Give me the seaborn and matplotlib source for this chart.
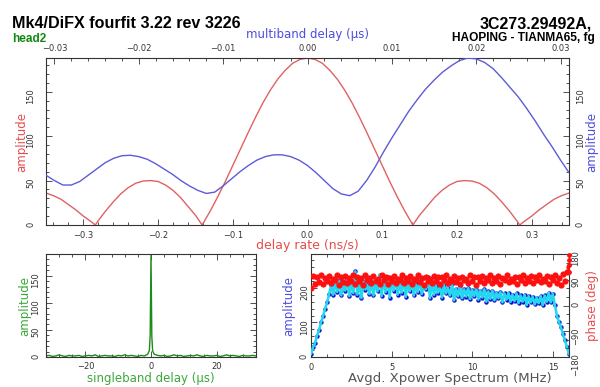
import numpy as np
import pandas as pd
import matplotlib
matplotlib.use("Agg")
import matplotlib.pyplot as plt
import seaborn as sns
from matplotlib.ticker import MultipleLocator

# ---------------- data ----------------
rate_ns_s = [-0.35, -0.34, -0.33, -0.32, -0.31, -0.30, -0.29, -0.284, -0.28, -0.27,
             -0.26, -0.25, -0.24, -0.23, -0.22, -0.21, -0.20, -0.19, -0.18, -0.17,
             -0.16, -0.15, -0.141, -0.13, -0.12, -0.11, -0.10, -0.09, -0.08, -0.07,
             -0.06, -0.05, -0.04, -0.03, -0.02, -0.01,
             0.00, 0.01, 0.02, 0.03, 0.04, 0.05, 0.06, 0.07, 0.08, 0.09, 0.10, 0.11,
             0.12, 0.13, 0.141, 0.15, 0.16, 0.17, 0.18, 0.19, 0.20, 0.21, 0.22, 0.23,
             0.24, 0.25, 0.26, 0.27, 0.28, 0.284, 0.29, 0.30, 0.31, 0.32, 0.33, 0.34, 0.35]
rate_amp = [36, 33, 29, 23, 17, 10, 4, 0, 5, 16,
            26, 35, 42, 47, 49.5, 50, 49, 45, 39, 31,
            21, 11, 0, 16, 32, 49, 67, 85, 103, 120.5,
            137, 151.5, 164, 174, 182, 186.4,
            188, 186.4, 182, 174, 164, 151.5, 137, 120.5, 103, 85, 67, 49,
            32, 16, 0, 11, 21, 31, 39, 45, 49, 50, 49.5, 47,
            42, 35, 26, 16, 5, 0, 4, 10, 17, 23, 29, 33, 36]

mbd_us = [-0.031, -0.030, -0.029, -0.028, -0.027, -0.026, -0.025, -0.024, -0.023, -0.022,
          -0.021, -0.020, -0.019, -0.018, -0.017, -0.016, -0.015, -0.014, -0.013, -0.012,
          -0.011, -0.010, -0.009, -0.008, -0.007, -0.006, -0.005, -0.004, -0.003, -0.002,
          -0.001, 0.000, 0.001, 0.002, 0.003, 0.004, 0.005, 0.006, 0.007, 0.008,
          0.009, 0.010, 0.011, 0.012, 0.013, 0.014, 0.015, 0.016, 0.017, 0.018,
          0.019, 0.020, 0.021, 0.022, 0.023, 0.024, 0.025, 0.026, 0.027, 0.028,
          0.029, 0.030, 0.031]
mbd_amp = [56, 50, 45, 45, 49, 56, 63, 70, 75, 78,
           78.5, 77, 74, 69, 63, 57, 50, 44, 39, 35.5,
           37, 44, 52, 60, 67, 73, 77, 79, 79, 77,
           73, 67, 59, 50, 41, 35, 33, 38, 50, 65,
           82, 98, 113, 128, 141, 153, 163, 172, 179, 185,
           188, 187, 183, 176, 166, 155, 144, 131, 117, 102,
           88, 73, 59]

sbd_us = [-32, -31, -30, -29, -28, -27, -26, -25, -24, -23, -22, -21, -20, -19, -18, -17,
          -16, -15, -14, -13, -12, -11, -10, -9, -8, -7, -6, -5, -4, -3, -2, -1,
          -0.5, -0.25, 0, 0.25, 0.5,
          1, 2, 3, 4, 5, 6, 7, 8, 9, 10, 11, 12, 13, 14, 15, 16,
          17, 18, 19, 20, 21, 22, 23, 24, 25, 26, 27, 28, 29, 30, 31, 32]
sbd_amp = [2, 3, 1, 2, 4, 2, 1, 3, 2, 2, 3, 1, 2, 3, 2, 4,
           1, 2, 3, 2, 2, 1, 3, 2, 4, 2, 3, 2, 1, 3, 2, 5,
           12, 40, 188, 38, 11,
           5, 3, 2, 3, 1, 2, 4, 2, 3, 1, 2, 3, 2, 4, 2, 1,
           3, 2, 2, 3, 1, 2, 4, 2, 3, 2, 1, 3, 2, 2, 3, 2]

freq_mhz = np.linspace(0, 16, 129)   # channel grid, 0.125 MHz
xp_amp = [8, 28, 40, 62, 78, 100, 118, 140, 158, 182, 208, 180, 215, 188, 222, 178,
          210, 192, 225, 176, 215, 185, 248, 180, 212, 170, 218, 195, 208, 182, 220, 178,
          214, 190, 238, 176, 222, 188, 232, 172, 218, 192, 226, 180, 212, 186, 230, 174,
          216, 190, 222, 178, 210, 188, 226, 182, 208, 196, 232, 170, 215, 180, 206, 186,
          202, 172, 208, 184, 200, 178, 212, 164, 198, 176, 204, 170, 196, 175, 200, 168,
          194, 176, 198, 166, 192, 172, 196, 160, 190, 168, 192, 164, 186, 170, 188, 158,
          184, 166, 186, 160, 180, 162, 184, 156, 178, 160, 180, 150, 176, 158, 174, 152,
          172, 156, 176, 150, 178, 160, 186, 158, 182, 150, 120, 102, 86, 66, 48, 28, 8]
xp_phase = [62, 104, 76, 98, 82, 106, 74, 96, 85, 103, 78, 94, 88, 107, 73, 99,
            83, 104, 77, 95, 87, 106, 75, 100, 84, 96, 72, 105, 89, 97, 79, 103,
            85, 93, 76, 106, 88, 99, 74, 95, 86, 104, 78, 94, 90, 107, 80, 97,
            84, 103, 75, 93, 88, 105, 81, 96, 73, 101, 87, 94, 79, 104, 85, 98,
            74, 100, 88, 106, 78, 94, 86, 103, 82, 96, 75, 101, 89, 93, 80, 105,
            84, 98, 72, 100, 87, 104, 79, 95, 90, 107, 77, 97, 85, 103, 74, 96,
            88, 105, 81, 94, 86, 101, 76, 98, 90, 107, 80, 95, 84, 104, 78, 99,
            88, 106, 82, 94, 86, 103, 75, 101, 90, 108, 80, 97, 72, 110, 84, 118, 135]
edge_freq = [16.0, 16.0, 16.0, 15.97]
edge_phase = [178, 160, 140, 118]

# ---------------- style ----------------
sns.set_theme(style="ticks")
plt.rcParams['font.family'] = ['DejaVu Sans']

RED_L = '#e06262'
BLUE_L = '#5c5cd6'
RED_T = '#e84c4c'
BLUE_T = '#4d4de0'
GREEN_T = '#3aa83a'
TICKC = '#333333'
TICKFS = 6

W, H = 600, 387
fig = plt.figure(figsize=(W / 100, H / 100), dpi=100)

def rect(x0, y0, x1, y1):
    return [x0 / W, 1 - y1 / H, (x1 - x0) / W, (y1 - y0) / H]

ax_top = fig.add_axes(rect(46, 58, 569, 225))
ax_mb = fig.add_axes(rect(46, 58, 569, 225), frameon=False)
ax_sb = fig.add_axes(rect(46, 254, 256, 357))
ax_sp = fig.add_axes(rect(311, 254, 569, 357))
ax_ph = ax_sp.twinx()

def style_ticks(ax, **kw):
    ax.tick_params(which='both', direction='in', color=TICKC, width=0.6,
                   labelsize=TICKFS, labelcolor=TICKC, **kw)
    ax.tick_params(which='major', length=4)
    ax.tick_params(which='minor', length=2)

for a in (ax_top, ax_sb, ax_sp):
    for s in a.spines.values():
        s.set_color(TICKC)
        s.set_linewidth(0.8)
for s in ax_ph.spines.values():
    s.set_visible(False)

# ---------------- top panel: delay rate (red) ----------------
sns.lineplot(x=rate_ns_s, y=rate_amp, ax=ax_top, color=RED_L, lw=1.0,
             estimator=None, sort=False)
ax_top.set_xlim(-0.35, 0.35)
ax_top.set_ylim(0, 188)
ax_top.xaxis.set_major_locator(MultipleLocator(0.1))
ax_top.xaxis.set_minor_locator(MultipleLocator(0.02))
ax_top.yaxis.set_major_locator(MultipleLocator(50))
ax_top.yaxis.set_minor_locator(MultipleLocator(10))
style_ticks(ax_top, top=False, right=False)
ax_top.tick_params(axis='x', which='both', pad=4)
ax_top.tick_params(axis='y', which='both', pad=7.5, labelrotation=90)
ax_top.set_xlabel('delay rate (ns/s)', color=RED_T, fontsize=9)
ax_top.xaxis.set_label_coords(0.5, -0.122)
ax_top.xaxis.label.set_va('center')
ax_top.set_ylabel('amplitude', color=RED_T, fontsize=8.5, va='center')
ax_top.yaxis.set_label_coords(-0.047, 0.5)

# overlay: multiband delay (blue)
sns.lineplot(x=mbd_us, y=mbd_amp, ax=ax_mb, color=BLUE_L, lw=1.0,
             estimator=None, sort=False)
ax_mb.patch.set_visible(False)
ax_mb.set_xlim(-0.031, 0.031)
ax_mb.set_ylim(0, 188)
ax_mb.xaxis.set_ticks_position('top')
ax_mb.xaxis.set_label_position('top')
ax_mb.yaxis.set_ticks_position('right')
ax_mb.yaxis.set_label_position('right')
ax_mb.xaxis.set_major_locator(MultipleLocator(0.01))
ax_mb.xaxis.set_minor_locator(MultipleLocator(0.002))
ax_mb.yaxis.set_major_locator(MultipleLocator(50))
ax_mb.yaxis.set_minor_locator(MultipleLocator(10))
style_ticks(ax_mb, top=True, bottom=False, left=False, right=True,
            labeltop=True, labelbottom=False, labelleft=False, labelright=True)
ax_mb.tick_params(axis='x', which='both', pad=3.5)
ax_mb.tick_params(axis='y', which='both', pad=5, labelrotation=90)
ax_mb.set_xlabel('multiband delay (\u00b5s)', color=BLUE_T, fontsize=8.5)
ax_mb.xaxis.set_label_coords(0.5, 1.138)
ax_mb.xaxis.label.set_va('center')
ax_mb.set_ylabel('amplitude', color=BLUE_T, fontsize=8.5)
ax_mb.yaxis.label.set_va('center')
ax_mb.yaxis.label.set_rotation(90)
ax_mb.yaxis.set_label_coords(1.043, 0.5)

# ---------------- bottom-left: singleband delay ----------------
sns.lineplot(x=sbd_us, y=sbd_amp, ax=ax_sb, color='#1a8c1a', lw=1.0,
             estimator=None, sort=False)
ax_sb.set_xlim(-32, 32)
ax_sb.set_ylim(0, 190)
ax_sb.xaxis.set_major_locator(MultipleLocator(20))
ax_sb.xaxis.set_minor_locator(MultipleLocator(4))
ax_sb.yaxis.set_major_locator(MultipleLocator(50))
ax_sb.yaxis.set_minor_locator(MultipleLocator(10))
style_ticks(ax_sb, top=True, right=True)
ax_sb.tick_params(axis='x', which='both', pad=3.4)
ax_sb.tick_params(axis='y', which='both', pad=4.3, labelrotation=90)
ax_sb.set_xlabel('singleband delay (\u00b5s)', color=GREEN_T, fontsize=8.5)
ax_sb.xaxis.set_label_coords(0.4976, -0.204)
ax_sb.xaxis.label.set_va('center')
ax_sb.set_ylabel('amplitude', color=GREEN_T, fontsize=8.5, va='center')
ax_sb.yaxis.set_label_coords(-0.1, 0.5)

# ---------------- bottom-right: cross-power spectrum ----------------
sns.scatterplot(x=freq_mhz, y=xp_amp, ax=ax_sp, color='#1010d0', s=10,
                linewidth=0, zorder=2)
sns.lineplot(x=freq_mhz, y=xp_amp, ax=ax_sp, color='#22d8f0', lw=1.8,
             estimator=None, sort=False, zorder=3)
ax_sp.set_xlim(0, 16)
ax_sp.set_ylim(0, 298)
ax_sp.xaxis.set_major_locator(MultipleLocator(5))
ax_sp.xaxis.set_minor_locator(MultipleLocator(1))
ax_sp.yaxis.set_major_locator(MultipleLocator(100))
ax_sp.yaxis.set_minor_locator(MultipleLocator(20))
style_ticks(ax_sp, top=True, right=False)
ax_sp.tick_params(axis='x', which='both', pad=4)
ax_sp.tick_params(axis='y', which='both', pad=1.5, labelrotation=90)
ax_sp.set_xlabel('Avgd. Xpower Spectrum (MHz)', color='#555555', fontsize=9.5)
ax_sp.xaxis.set_label_coords(0.539, -0.204)
ax_sp.xaxis.label.set_va('center')
ax_sp.set_ylabel('amplitude', color=BLUE_T, fontsize=8.5, va='center')
ax_sp.yaxis.set_label_coords(-0.085, 0.5)

sns.scatterplot(x=freq_mhz, y=xp_phase, ax=ax_ph, color='#ff1010', s=20,
                linewidth=0)
sns.scatterplot(x=edge_freq, y=edge_phase, ax=ax_ph, color='#ff1010', s=12,
                linewidth=0, clip_on=False)
ax_ph.set_xlim(0, 16)
ax_ph.set_ylim(-180, 180)
ax_ph.yaxis.set_major_locator(MultipleLocator(90))
ax_ph.yaxis.set_minor_locator(MultipleLocator(30))
style_ticks(ax_ph, left=False, right=True, labelleft=False, labelright=True)
ax_ph.tick_params(axis='y', which='both', pad=1.5, labelrotation=90)
ax_ph.set_ylabel('phase (deg)', color=RED_T, fontsize=8.5)
ax_ph.yaxis.label.set_va('center')
ax_ph.yaxis.label.set_rotation(90)
ax_ph.yaxis.set_label_coords(1.091, 0.5)

# ---------------- header texts ----------------
fig.text(12 / W, 1 - 27.5 / H, 'Mk4/DiFX fourfit 3.22 rev 3226', fontsize=11.6,
         fontweight='bold', family='Liberation Sans', ha='left', va='baseline',
         color='black')
fig.text(12 / W, 1 - 42.5 / H, 'head2', fontsize=8.5, fontweight='bold',
         color='#118811', family='Liberation Sans', ha='left', va='baseline')
fig.text(480 / W, 1 - 28.5 / H, '3C273.29492A,', fontsize=11.5,
         fontweight='bold', family='Liberation Sans', ha='left', va='baseline',
         color='black')
fig.text(452 / W, 1 - 41 / H, 'HAOPING - TIANMA65, fg', fontsize=8.6,
         fontweight='bold', family='Liberation Sans', ha='left', va='baseline',
         color='black')

fig.savefig('out.png', dpi=100)
